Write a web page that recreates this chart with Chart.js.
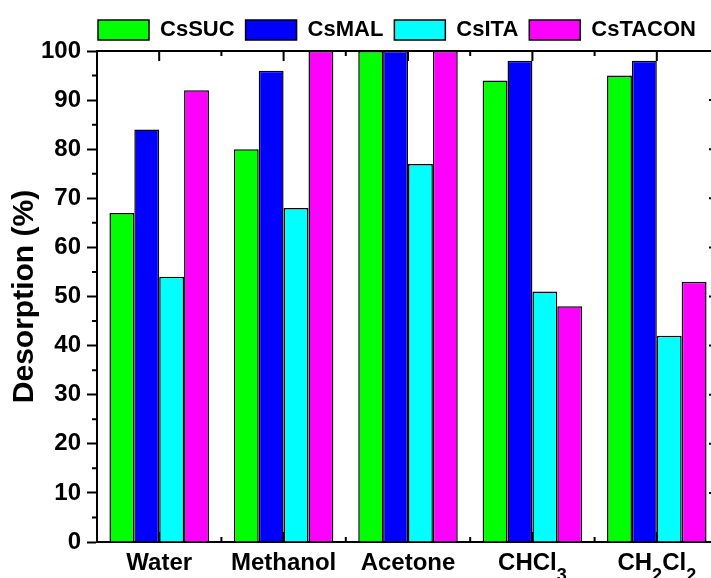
<!DOCTYPE html>
<html>
<head>
<meta charset="utf-8">
<script src="https://cdn.jsdelivr.net/npm/chart.js@4/dist/chart.umd.min.js"></script>
<style>
  html, body { margin: 0; padding: 0; background: #fff; overflow: hidden; }
  #wrap { position: relative; width: 794px; height: 578px; }
</style>
</head>
<body>
<div id="wrap"><canvas id="grafico"></canvas></div>
<script>
// Dados
const categorias = ['Water', 'Methanol', 'Acetone', 'CHCl\u2083', 'CH\u2082Cl\u2082'];
const nomesSeries = ['CsSUC', 'CsMAL', 'CsITA', 'CsTACON'];
const csSUC = [67, 80, 100, 94, 95];
const csMAL = [84, 96, 100, 98, 98];
const csITA = [54, 68, 77, 51, 42];
const csTACON = [92, 100, 100, 48, 53];
const yMin = 0, yMax = 100, yPasso = 10;

const cores = ['#00ff00', '#0000ff', '#00ffff', '#ff00ff'];
const fonte = 'Arial, "Liberation Sans", sans-serif';

// Moldura superior/direita e marcas menores (estilo Origin)
const moldura = {
    id: 'moldura',
    afterLayout(chart) {
        // legenda um pouco deslocada para a esquerda, como no original
        chart.legend.left -= 11;
        chart.legend.right -= 11;
    },
    beforeDatasetsDraw(chart) {
        const { ctx, chartArea: a, scales: { x, y } } = chart;
        ctx.save();
        ctx.strokeStyle = '#000';
        ctx.lineWidth = 2;
        ctx.beginPath();
        ctx.moveTo(a.left, a.top);
        ctx.lineTo(a.right, a.top);
        ctx.lineTo(a.right, a.bottom);
        ctx.stroke();

        ctx.beginPath();
        const vals = y.ticks.map(t => t.value);
        vals.forEach((v, i) => {
            const py = y.getPixelForValue(v);
            ctx.moveTo(a.right - 10, py); ctx.lineTo(a.right, py);
            if (i < vals.length - 1) {
                const pm = y.getPixelForValue((v + vals[i + 1]) / 2);
                ctx.moveTo(a.left - 5, pm); ctx.lineTo(a.left, pm);
                ctx.moveTo(a.right - 5, pm); ctx.lineTo(a.right, pm);
            }
        });
        categorias.forEach((c, i) => {
            const px = x.getPixelForValue(i);
            ctx.moveTo(px, a.top); ctx.lineTo(px, a.top + 10);
            ctx.moveTo(px, a.bottom); ctx.lineTo(px, a.bottom - 10);
            if (i < categorias.length - 1) {
                const pm = (px + x.getPixelForValue(i + 1)) / 2;
                ctx.moveTo(pm, a.top); ctx.lineTo(pm, a.top + 5);
                ctx.moveTo(pm, a.bottom); ctx.lineTo(pm, a.bottom - 5);
            }
        });
        ctx.stroke();
        ctx.restore();
    }
};

// Rótulos do eixo x com índices (₂ ₃) desenhados como no Origin
const subs = { '\u2080': '0', '\u2081': '1', '\u2082': '2', '\u2083': '3', '\u2084': '4' };
const rotulosX = {
    id: 'rotulosX',
    afterDraw(chart) {
        const { ctx, chartArea: a, scales: { x } } = chart;
        const fN = 'bold 24px ' + fonte, fS = 'bold 18px ' + fonte;
        ctx.save();
        ctx.fillStyle = '#000';
        ctx.textBaseline = 'alphabetic';
        ctx.textAlign = 'left';
        chart.data.labels.forEach((lab, i) => {
            const partes = [];
            for (const ch of lab) {
                const sub = subs[ch] !== undefined;
                const txt = sub ? subs[ch] : ch;
                const last = partes[partes.length - 1];
                if (last && last.sub === sub) last.t += txt; else partes.push({ t: txt, sub });
            }
            let total = 0;
            partes.forEach(p => { ctx.font = p.sub ? fS : fN; p.w = ctx.measureText(p.t).width; total += p.w; });
            let cx = x.getPixelForValue(i) - total / 2;
            const base = a.bottom + 28;
            partes.forEach(p => {
                ctx.font = p.sub ? fS : fN;
                ctx.fillText(p.t, cx, p.sub ? base + 11 : base);
                cx += p.w;
            });
        });
        ctx.restore();
    }
};

document.addEventListener('DOMContentLoaded', function () {
    const series = [csSUC, csMAL, csITA, csTACON];
    new Chart(document.getElementById('grafico').getContext('2d'), {
        type: 'bar',
        data: {
            labels: categorias,
            datasets: series.map((d, i) => ({
                label: nomesSeries[i],
                data: d,
                backgroundColor: cores[i],
                borderColor: '#000',
                borderWidth: 1.5,
                borderSkipped: 'start'
            }))
        },
        options: {
            responsive: true,
            maintainAspectRatio: false,
            animation: false,
            categoryPercentage: 0.8,
            barPercentage: 1.0,
            layout: { padding: { left: 0, right: 75, top: 8, bottom: 0 } },
            plugins: {
                legend: {
                    position: 'top',
                    fullSize: false,
                    labels: {
                        boxWidth: 51,
                        boxHeight: 20,
                        padding: 11,
                        color: '#000',
                        font: { family: fonte, size: 22, weight: 'bold', lineHeight: 1.0 }
                    }
                },
                tooltip: { enabled: false }
            },
            scales: {
                x: {
                    afterFit: s => { s.height = 36; },
                    grid: { display: false, drawTicks: false },
                    border: { display: true, color: '#000', width: 2 },
                    ticks: { display: false }
                },
                y: {
                    min: yMin,
                    max: yMax,
                    afterFit: s => { s.width = 97; },
                    grid: { drawOnChartArea: false, tickLength: 10, tickWidth: 2, tickColor: '#000' },
                    border: { display: true, color: '#000', width: 2 },
                    ticks: {
                        stepSize: yPasso,
                        color: '#000',
                        padding: 6,
                        font: { family: fonte, size: 24, weight: 'bold' }
                    },
                    title: {
                        display: true,
                        text: 'Desorption (%)',
                        color: '#000',
                        padding: { top: 7, bottom: 0 },
                        font: { family: fonte, size: 30, weight: 'bold' }
                    }
                }
            }
        },
        plugins: [moldura, rotulosX]
    });
});
</script>
</body>
</html>
